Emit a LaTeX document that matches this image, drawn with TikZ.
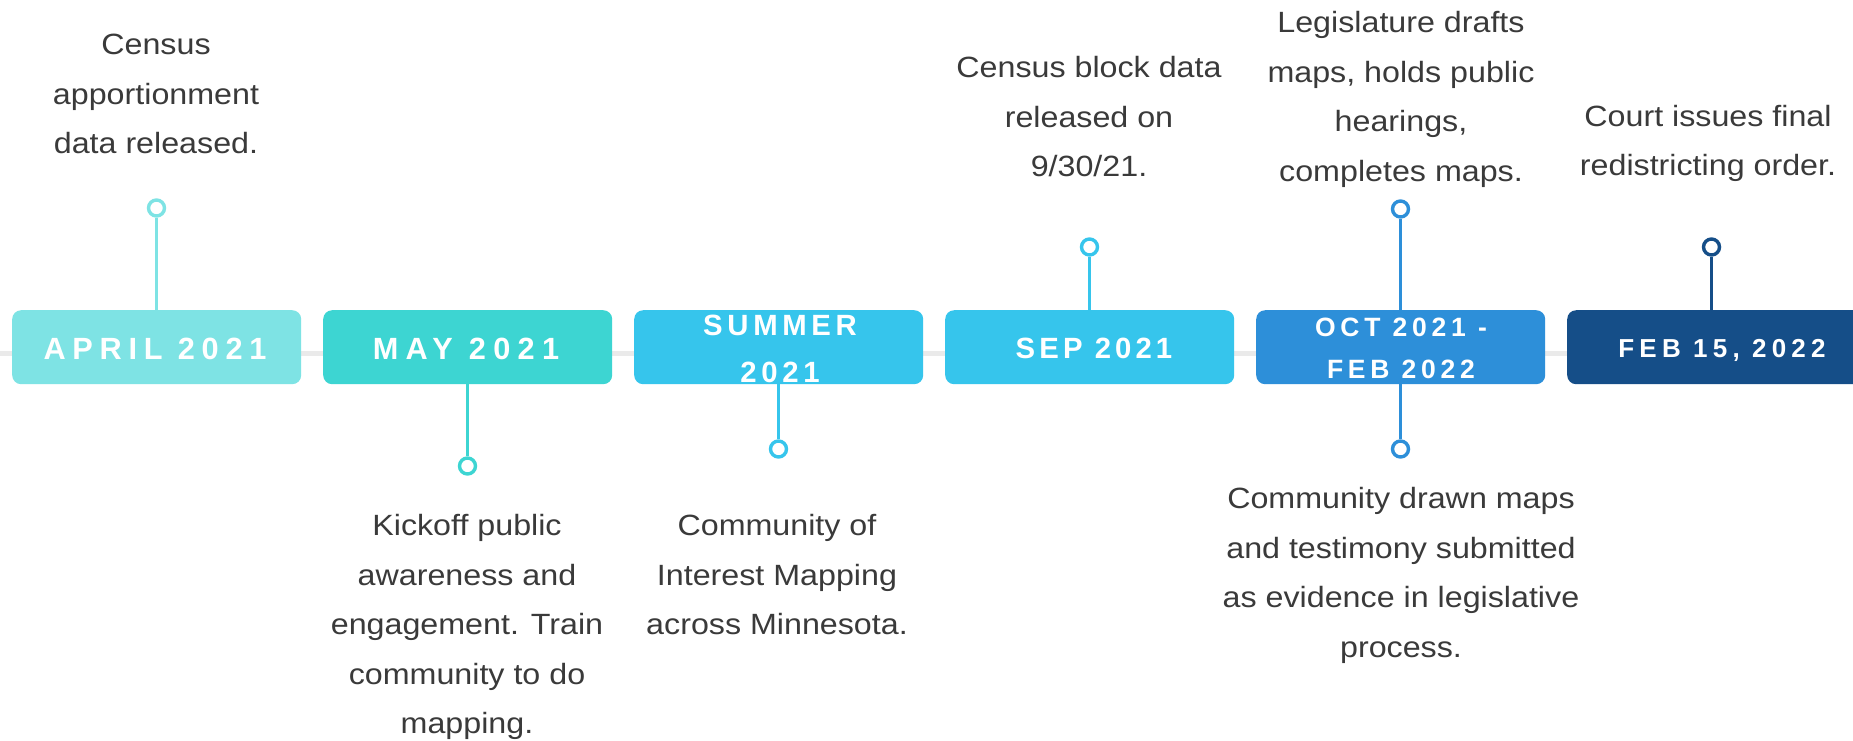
\documentclass[tikz,border=0pt]{standalone}
\usepackage{fontspec}
\setmainfont[FakeStretch=1.1]{Liberation Sans}
\newfontfamily\labfont{Liberation Sans}
\definecolor{cA}{HTML}{7EE3E4}
\definecolor{cB}{HTML}{3DD5D2}
\definecolor{cC}{HTML}{36C5EC}
\definecolor{cD}{HTML}{36C5EC}
\definecolor{cE}{HTML}{2D8FD9}
\definecolor{cF}{HTML}{154E88}
\definecolor{txtgray}{HTML}{3A3A3A}
\definecolor{axisgray}{HTML}{EAEAEA}
\newcommand\labset[3]{\labfont\bfseries\fontsize{#1}{#2}\selectfont\addfontfeature{LetterSpace=#3}}
\begin{document}
\begin{tikzpicture}[x=1pt,y=-1pt,
  body/.style={anchor=north, inner sep=0pt, align=center, text=txtgray,
    font=\fontsize{29.3pt}{49.5pt}\selectfont},
  box/.style={rounded corners=9pt, minimum width=289pt, minimum height=74pt,
    inner sep=0pt, anchor=north west},
  lab/.style={anchor=north, inner sep=0pt, align=center, text=white},
  stem/.style={line width=3.5pt},
  dot/.style={circle, draw, line width=3.4pt, minimum size=16pt, inner sep=0pt, fill=white},
]
\useasboundingbox (0,0) rectangle (1853,740);
\clip (0,0) rectangle (1853,740);
\fill[white] (0,0) rectangle (1853,740);

% axis line
\coordinate (axL) at (0,353);
\coordinate (axR) at (1853,353);
\draw[axisgray, line width=5pt] (axL) -- (axR);

% boxes
\node[box, fill=cA] (b1) at (12,310) {};
\node[box, fill=cB] (b2) at (323,310) {};
\node[box, fill=cC] (b3) at (634,310) {};
\node[box, fill=cD] (b4) at (945,310) {};
\node[box, fill=cE] (b5) at (1256,310) {};
\node[box, fill=cF, minimum width=300pt] (b6) at (1567,310) {};

% box labels
\node[lab, font={\labset{30.7pt}{47pt}{22}}] (l1) at (155,336) {\rule{0pt}{.75em}APRIL 2021};
\node[lab, font={\labset{30.7pt}{47pt}{24}}] (l2) at (466,336) {\rule{0pt}{.75em}MAY 2021};
\node[lab, font={\labset{29.3pt}{47pt}{16}}] (l3) at (780,313.5) {\rule{0pt}{.75em}SUMMER\\2021};
\node[lab, font={\labset{29.3pt}{47pt}{14}}] (l4) at (1094,336.5) {\rule{0pt}{.75em}SEP 2021};
\node[lab, font={\labset{26.5pt}{42pt}{18}}] (l5) at (1401,316.6) {\rule{0pt}{.75em}OCT 2021 -\\FEB 2022};
\node[lab, font={\labset{26pt}{42pt}{20}}] (l6) at (1722,337.8) {\rule{0pt}{.75em}FEB 15, 2022};

% dots
\node[dot, draw=cA] (d1) at (156.5,208) {};
\node[dot, draw=cB] (d2) at (467.5,466) {};
\node[dot, draw=cC] (d3) at (778.5,449) {};
\node[dot, draw=cD] (d4) at (1089.5,247) {};
\node[dot, draw=cE] (d5a) at (1400.5,209) {};
\node[dot, draw=cE] (d5b) at (1400.5,449) {};
\node[dot, draw=cF] (d6) at (1711.5,247) {};

% stems
\draw[stem, cA] (d1.south) -- (d1.south |- b1.north);
\draw[stem, cB] (d2.north |- b2.south) -- (d2.north);
\draw[stem, cC] (d3.north |- b3.south) -- (d3.north);
\draw[stem, cD] (d4.south) -- (d4.south |- b4.north);
\draw[stem, cE] (d5a.south) -- (d5a.south |- b5.north);
\draw[stem, cE] (d5b.north |- b5.south) -- (d5b.north);
\draw[stem, cF] (d6.south) -- (d6.south |- b6.north);

% descriptions
\node[body] (t1) at (156,32.5) {\rule{0pt}{.75em}Census\\apportionment\\data released.};
\node[body] (t2) at (467,513.5) {\rule{0pt}{.75em}Kickoff public\\awareness and\\engagement. Train\\community to do\\mapping.};
\node[body] (t3) at (777,513.5) {\rule{0pt}{.75em}Community of\\Interest Mapping\\across Minnesota.};
\node[body] (t4) at (1089,55.5) {\rule{0pt}{.75em}Census block data\\released on\\9/30/21.};
\node[body] (t5a) at (1401,10.5) {\rule{0pt}{.75em}Legislature drafts\\maps, holds public\\hearings,\\completes maps.};
\node[body] (t5b) at (1401,486.5) {\rule{0pt}{.75em}Community drawn maps\\and testimony submitted\\as evidence in legislative\\process.};
\node[body] (t6) at (1708,104) {\rule{0pt}{.75em}Court issues final\\redistricting order.};
\end{tikzpicture}
\end{document}
